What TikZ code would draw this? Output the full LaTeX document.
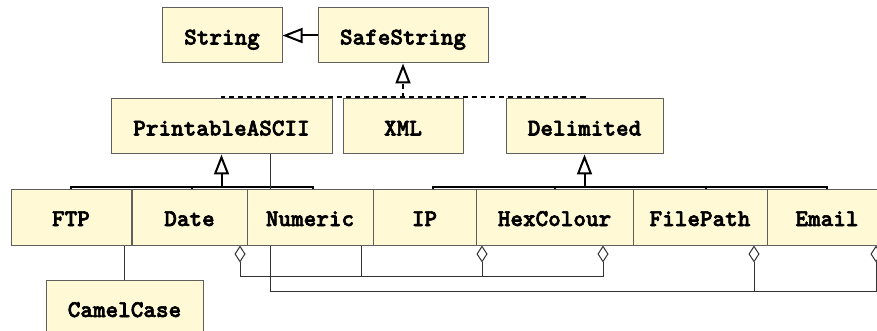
\documentclass[tikz,border=0pt]{standalone}
\usepackage{fontspec}
\newfontfamily\clsfont[FakeBold=2.5]{lmmonolt10-bold.otf}
\usetikzlibrary{arrows.meta,backgrounds,calc}
\definecolor{boxfill}{RGB}{255,249,214}
\definecolor{boxline}{RGB}{95,95,95}
\definecolor{assocline}{RGB}{50,50,50}
\begin{document}
\begin{tikzpicture}[x=1pt,y=-1pt,
  cls/.style={draw=boxline, fill=boxfill, line width=1pt, inner sep=0pt,
    minimum height=55pt, text height=18pt, text depth=0pt,
    font=\fontsize{24}{28}\selectfont\clsfont},
  low/.style={cls, minimum height=56pt},
  inhline/.style={line width=2pt, draw=black},
  inh/.style={inhline, -{Triangle[open,length=20pt,width=15pt,line width=2pt]}},
  realize/.style={inh, dash pattern=on 5pt off 4pt},
  agg/.style={line width=1pt, draw=assocline, -{Diamond[open,length=17pt,width=11pt,line width=1pt]}},
  plain/.style={line width=1.5pt, draw=assocline}]
\useasboundingbox (0,0) rectangle (877,331);

% classes
\node[cls, minimum width=120pt] (str) at (222,35.5) {String};
\node[cls, minimum width=170pt] (safe) at (403,35.5) {SafeString};
\node[cls, minimum width=221pt] (pa) at (221.5,126.5) {PrintableASCII};
\node[cls, minimum width=120pt] (xml) at (403,126.5) {XML};
\node[cls, minimum width=157pt] (del) at (584.5,126.5) {Delimited};
\node[low, minimum width=120pt] (ftp) at (71,217) {FTP};
\node[low, minimum width=115pt] (date) at (189.5,217) {Date};
\node[low, minimum width=126pt] (num) at (310,217) {Numeric};
\node[low, minimum width=103pt] (ip) at (424.5,217) {IP};
\node[low, minimum width=157pt] (hex) at (554.5,217) {HexColour};
\node[low, minimum width=134pt] (fp) at (700,217) {FilePath};
\node[low, minimum width=120pt] (mail) at (827,217) {Email};
\node[low, minimum width=157pt] (cc) at (124.5,308) {CamelCase};

% bus levels
\coordinate (topbus) at (0,97);
\coordinate (midbus) at (0,187);
\coordinate (aggA) at (0,276);
\coordinate (aggB) at (0,291);

\begin{pgfonlayer}{background}
% SafeString extends String
\draw[inh] (safe.west) -- (str.east);

% realisations of SafeString
\draw[inhline, dash pattern=on 5pt off 4pt] (pa.north) -- (pa.north |- topbus) -- (del.north |- topbus) -- (del.north);
\draw[realize] (xml.north) -- (safe.south);

% PrintableASCII subclasses
\draw[inhline] (ftp.north) -- (ftp.north |- midbus) -- ([xshift=3pt]num.north |- midbus) -- ([xshift=3pt]num.north);
\draw[inhline] ([xshift=2.5pt]date.north) -- ([xshift=2.5pt]date.north |- midbus);
\draw[inh] (pa.south |- midbus) -- (pa.south);

% Delimited subclasses
\draw[inhline] ([xshift=8.5pt]ip.north) -- ([xshift=8.5pt]ip.north |- midbus) -- (mail.north |- midbus) -- (mail.north);
\draw[inhline] (hex.north) -- (hex.north |- midbus);
\draw[inhline] ([xshift=6pt]fp.north) -- ([xshift=6pt]fp.north |- midbus);
\draw[inh] (del.south |- midbus) -- (del.south);

% aggregations of Numeric
\draw[agg] ([xshift=51pt]num.south) -- ([xshift=51pt]num.south |- aggA) -| ([xshift=50.5pt]date.south);
\draw[agg] ([xshift=51pt]num.south |- aggA) -| ([xshift=-72.5pt]hex.south);
\draw[agg] ([xshift=-72.5pt]hex.south |- aggA) -| ([xshift=48.5pt]hex.south);

% aggregations of PrintableASCII
\draw[agg] ([xshift=48.5pt]pa.south) -- ([xshift=48.5pt]pa.south |- aggB) -| ([xshift=54pt]fp.south);
\draw[agg] ([xshift=54pt]fp.south |- aggB) -| ([xshift=49pt]mail.south);

% CamelCase below FTP
\draw[plain] (cc.north) -- (cc.north |- ftp.south);
\end{pgfonlayer}
\end{tikzpicture}
\end{document}
